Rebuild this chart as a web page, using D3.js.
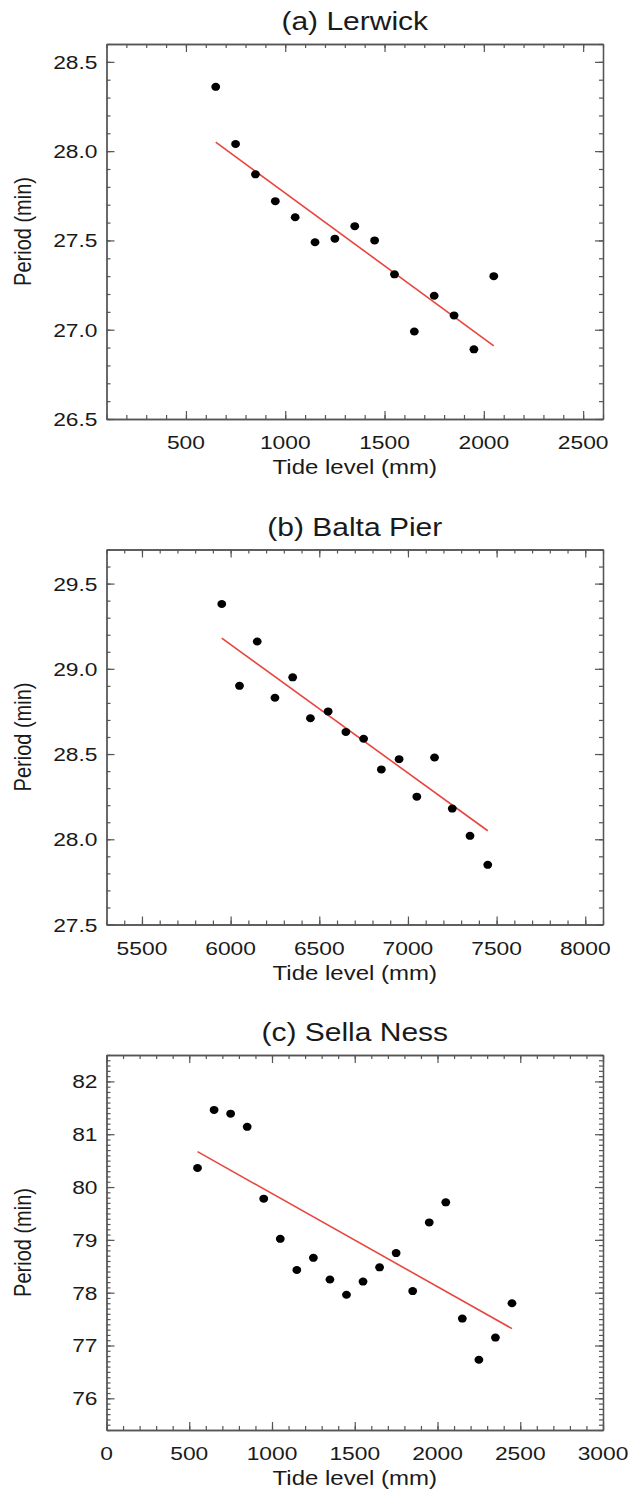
<!DOCTYPE html>
<html>
<head>
<meta charset="utf-8">
<script src="https://cdn.jsdelivr.net/npm/d3@7"></script>
<style>
  body { margin: 0; background: #fff; }
  text { font-family: "Liberation Sans", Arial, sans-serif; fill: #1a1a1a; }
</style>
</head>
<body>
<svg id="chart" width="636" height="1495"></svg>
<script>
// (a) Lerwick
var tideA = [650, 750, 850, 950, 1050, 1150, 1250, 1350, 1450, 1550, 1650, 1750, 1850, 1950, 2050];
var periodA = [28.36, 28.04, 27.87, 27.72, 27.63, 27.49, 27.51, 27.58, 27.50, 27.31, 26.99, 27.19, 27.08, 26.89, 27.30];
var fitA = [28.05, 26.91];
var xTicksA = [500, 1000, 1500, 2000, 2500];
var yTicksA = [26.5, 27.0, 27.5, 28.0, 28.5];

// (b) Balta Pier
var tideB = [5950, 6050, 6150, 6250, 6350, 6450, 6550, 6650, 6750, 6850, 6950, 7050, 7150, 7250, 7350, 7450];
var periodB = [29.38, 28.90, 29.16, 28.83, 28.95, 28.71, 28.75, 28.63, 28.59, 28.41, 28.47, 28.25, 28.48, 28.18, 28.02, 27.85];
var fitB = [29.18, 28.05];
var xTicksB = [5500, 6000, 6500, 7000, 7500, 8000];
var yTicksB = [27.5, 28.0, 28.5, 29.0, 29.5];

// (c) Sella Ness
var tideC = [550, 650, 750, 850, 950, 1050, 1150, 1250, 1350, 1450, 1550, 1650, 1750, 1850, 1950, 2050, 2150, 2250, 2350, 2450];
var periodC = [80.36, 81.46, 81.39, 81.14, 79.78, 79.02, 78.43, 78.66, 78.25, 77.96, 78.21, 78.48, 78.75, 78.03, 79.33, 79.71, 77.51, 76.73, 77.15, 77.80];
var fitC = [80.67, 77.32];
var xTicksC = [0, 500, 1000, 1500, 2000, 2500, 3000];
var yTicksC = [76, 77, 78, 79, 80, 81, 82];

var panels = [
  {title: "(a) Lerwick", x: tideA, y: periodA, fit: fitA, xTicks: xTicksA, yTicks: yTicksA,
   xDom: [100, 2600], yDom: [26.5, 28.6], xMinor: 100, yMinor: 0.1, yFmt: d3.format(".1f")},
  {title: "(b) Balta Pier", x: tideB, y: periodB, fit: fitB, xTicks: xTicksB, yTicks: yTicksB,
   xDom: [5300, 8100], yDom: [27.5, 29.7], xMinor: 100, yMinor: 0.1, yFmt: d3.format(".1f")},
  {title: "(c) Sella Ness", x: tideC, y: periodC, fit: fitC, xTicks: xTicksC, yTicks: yTicksC,
   xDom: [0, 3000], yDom: [75.4, 82.5], xMinor: 100, yMinor: 0.1, yFmt: d3.format("d")}
];

var svg = d3.select("#chart");
var left = 106.5, right = 603, plotH = 375, stretch = 1.2;
var frameColour = "#555";

// text drawn a bit wide, like the original figure
function addText(g, str, x, y, size, anchor, rotate)
{
  g.append("text")
    .attr("transform", "translate(" + x + "," + y + ") scale(" + stretch + ",1)" + (rotate ? " rotate(-90)" : ""))
    .attr("text-anchor", anchor)
    .style("font-size", size + "px")
    .text(str);
}

function minorValues(dom, step)
{
  var out = [];
  var start = Math.ceil(dom[0] / step - 1e-6);
  for (var i = start; i * step <= dom[1] + 1e-6; i++) out.push(+(i * step).toFixed(4));
  return out;
}

panels.forEach(function(p, i)
{
  var top = 44 + i * 505.5;
  var bottom = top + plotH;
  var g = svg.append("g");

  var x = d3.scaleLinear().domain(p.xDom).range([left, right]);
  var y = d3.scaleLinear().domain(p.yDom).range([bottom, top]);

  // minor and major ticks on all four sides, pointing inwards
  var xMin = minorValues(p.xDom, p.xMinor), yMin = minorValues(p.yDom, p.yMinor);
  var axes = [
    [d3.axisBottom(x), "translate(0," + bottom + ")", xMin, p.xTicks],
    [d3.axisTop(x), "translate(0," + top + ")", xMin, p.xTicks],
    [d3.axisLeft(y), "translate(" + left + ",0)", yMin, p.yTicks],
    [d3.axisRight(y), "translate(" + right + ",0)", yMin, p.yTicks]
  ];
  axes.forEach(function(a)
  {
    g.append("g").attr("transform", a[1])
      .call(a[0].tickValues(a[2]).tickSize(-4).tickSizeOuter(0).tickFormat(""));
    g.append("g").attr("transform", a[1])
      .call(a[0].tickValues(a[3]).tickSize(-8).tickSizeOuter(0).tickFormat(""));
  });
  g.selectAll("path.domain").attr("stroke", frameColour).attr("stroke-width", 1.3);
  g.selectAll(".tick line").attr("stroke", frameColour).attr("stroke-width", 1.2);

  // tick labels
  p.xTicks.forEach(function(v) { addText(g, String(v), x(v), bottom + 30, 19, "middle"); });
  p.yTicks.forEach(function(v) { addText(g, p.yFmt(v), left - 9, y(v) + 7, 19, "end"); });

  // titles
  addText(g, p.title, (left + right) / 2, top - 14, 25, "middle");
  addText(g, "Tide level (mm)", (left + right) / 2, bottom + 55, 20, "middle");
  addText(g, "Period (min)", 31, (top + bottom) / 2, 20, "middle", true);

  // fitted line
  var n = p.x.length;
  g.append("line")
    .attr("x1", x(p.x[0])).attr("y1", y(p.fit[0]))
    .attr("x2", x(p.x[n - 1])).attr("y2", y(p.fit[1]))
    .attr("stroke", "#e8453f").attr("stroke-width", 1.6);

  // data points
  g.selectAll("ellipse.pt").data(p.x).enter().append("ellipse")
    .attr("class", "pt")
    .attr("cx", function(d) { return x(d); })
    .attr("cy", function(d, j) { return y(p.y[j]); })
    .attr("rx", 4.4).attr("ry", 4)
    .attr("fill", "#000");
});
</script>
</body>
</html>
